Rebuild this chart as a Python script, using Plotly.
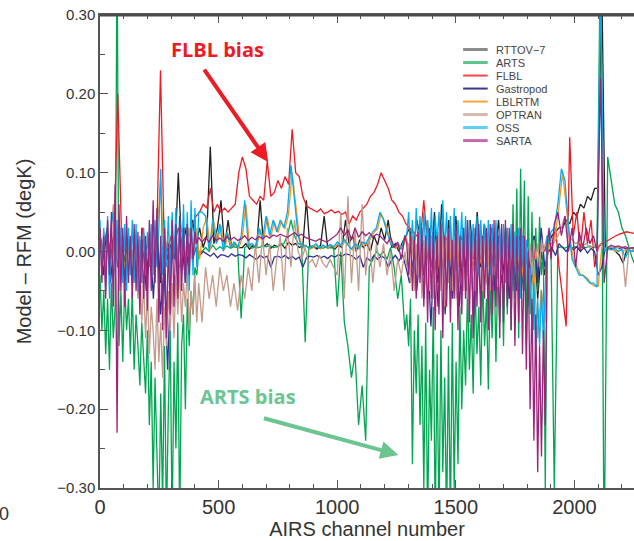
import plotly.graph_objects as go

# channel positions: every 15th channel for the smoother models,
# a denser read-off (every 8th) in the two noisy bands for the others
channels = list(range(0, 2251, 15))
channels_fine = (list(range(0, 417, 8)) + list(range(430, 1286, 15))
                 + list(range(1293, 1902, 8)) + list(range(1915, 2261, 15)))

rttov = [
    0.02, -0.01, 0.03, -0.02, 0.025, -0.01, 0.02, -0.015, 0.015, -0.01,
    0.02, -0.02, 0.015, -0.03, 0.02, -0.02, 0.03, -0.04, 0.02, -0.01,
    0.01, -0.01, 0.10, 0.0, 0.03, -0.01, 0.04, 0.01, 0.03, 0.005,
    0.02, 0.133, 0.01, 0.03, 0.065, 0.005, 0.04, 0.005, 0.01, 0.005,
    0.005, 0.01, 0.003, 0.008, 0.004, 0.065, 0.006, 0.01, 0.004, 0.008,
    0.006, 0.01, 0.004, 0.012, 0.008, 0.01, 0.005, 0.007, 0.065, 0.004,
    0.006, 0.003, 0.008, 0.045, 0.004, 0.006, 0.003, 0.008, 0.005, 0.04,
    0.01, 0.02, 0.0, 0.015, 0.005, 0.01, 0.0, 0.02, 0.008, 0.03,
    0.015, 0.04, 0.005, 0.01, 0.0, 0.012, 0.02, 0.03, 0.0, 0.04,
    0.02, -0.03, 0.04, -0.02, 0.05, -0.04, 0.06, -0.02, 0.04, -0.03,
    0.045, -0.02, 0.03, -0.03, 0.04, -0.01, 0.05, -0.02, 0.035, -0.01,
    0.03, -0.01, 0.04, -0.02, 0.03, -0.03, 0.02, -0.04, 0.02, -0.05,
    0.01, -0.04, 0.02, -0.06, 0.0, -0.03, 0.01, 0.02, 0.025, 0.03,
    0.03, 0.04, 0.035, 0.05, 0.045, 0.06, 0.055, 0.07, 0.065, 0.08,
    0.08, 0.35, 0.005, 0.003, 0.004, 0.0, -0.005, -0.015, 0.002, 0.0,
    0.002]

flbl = [
    0.02, 0.0, 0.03, -0.01, 0.025, 0.20, 0.03, 0.0, 0.02, -0.01,
    0.02, -0.01, 0.03, 0.0, 0.025, -0.01, 0.03, 0.23, 0.02, 0.0,
    0.02, 0.01, 0.03, 0.015, 0.03, 0.02, 0.035, 0.045, 0.05, 0.06,
    0.055, 0.08, 0.05, 0.06, 0.05, 0.055, 0.05, 0.055, 0.06, 0.10,
    0.12, 0.105, 0.07, 0.065, 0.06, 0.07, 0.065, 0.115, 0.07, 0.075,
    0.09, 0.08, 0.095, 0.085, 0.155, 0.10, 0.095, 0.07, 0.058, 0.055,
    0.052, 0.05, 0.054, 0.048, 0.05, 0.053, 0.049, 0.051, 0.047, 0.05,
    0.035, 0.045, 0.04, 0.05, 0.055, 0.06, 0.07, 0.075, 0.085, 0.10,
    0.09, 0.08, 0.065, 0.06, 0.05, 0.045, 0.035, 0.03, 0.025, 0.02,
    0.015, 0.065, 0.01, 0.02, 0.0, 0.015, -0.01, 0.02, 0.0, 0.01,
    0.015, -0.01, 0.02, 0.0, 0.01, -0.02, 0.015, 0.0, 0.01, -0.01,
    0.01, -0.02, 0.015, 0.0, 0.01, -0.03, 0.005, 0.0, 0.01, -0.02,
    -0.01, -0.05, 0.0, -0.03, 0.01, 0.0, 0.02, 0.0, 0.03, -0.02,
    -0.06, -0.095, 0.145, 0.02, 0.05, 0.0, 0.05, 0.01, 0.04, -0.02,
    0.005, 0.01, 0.012, 0.015, 0.018, 0.02, 0.022, 0.024, 0.025, 0.024,
    0.023]

gastropod = [
    0.02, -0.03, 0.025, -0.04, 0.03, -0.02, 0.02, -0.035, 0.015, -0.03,
    0.02, -0.04, 0.015, -0.05, 0.02, -0.06, 0.03, -0.08, -0.02, -0.15,
    -0.02, 0.02, -0.05, 0.015, -0.04, 0.01, -0.01, 0.005, -0.005, 0.0,
    -0.003, -0.006, -0.002, -0.008, -0.004, -0.005, -0.007, -0.003, -0.006, -0.004,
    -0.005, -0.008, -0.004, -0.007, -0.01, -0.005, -0.008, -0.006, -0.02, -0.007,
    -0.006, -0.008, -0.005, -0.009, -0.006, -0.01, -0.007, -0.02, -0.008, -0.006,
    -0.007, -0.005, -0.008, -0.006, -0.009, -0.005, -0.007, -0.004, -0.006, -0.003,
    -0.004, -0.006, -0.01, -0.005, -0.02, -0.008, -0.012, -0.005, -0.01, -0.006,
    -0.008, -0.02, -0.01, -0.005, -0.012, -0.004, -0.02, -0.04, -0.01, -0.05,
    0.0, -0.06, 0.01, -0.095, 0.015, -0.07, 0.02, -0.08, 0.01, -0.06,
    0.02, -0.07, 0.015, -0.05, 0.02, -0.08, 0.01, -0.06, 0.02, -0.05,
    0.015, -0.05, 0.02, -0.04, 0.01, -0.06, 0.015, -0.05, 0.02, -0.04,
    0.01, -0.03, 0.02, -0.04, 0.03, -0.02, 0.0, 0.005, -0.005, 0.01,
    0.005, 0.0, 0.008, 0.002, 0.006, 0.0, 0.005, -0.002, 0.004, 0.0,
    -0.03, -0.02, 0.004, 0.005, 0.004, 0.006, 0.004, 0.005, 0.003, 0.004,
    0.004]

lblrtm = [
    0.01, -0.015, 0.012, -0.02, 0.015, -0.01, 0.01, -0.02, 0.01, -0.015,
    0.01, -0.02, 0.008, -0.015, 0.01, -0.01, 0.015, 0.09, -0.01, 0.015,
    -0.01, 0.02, -0.005, 0.025, -0.01, 0.03, -0.015, 0.03, -0.01, 0.03,
    0.043, 0.002, 0.038, 0.012, 0.033, 0.002, 0.023, 0.006, 0.011, 0.004,
    0.018, 0.06, 0.007, 0.009, 0.004, 0.028, 0.014, 0.043, 0.019, 0.038,
    0.024, 0.038, 0.029, 0.048, 0.10, 0.058, 0.019, 0.004, 0.007, 0.003,
    0.005, 0.009, 0.003, 0.007, 0.004, 0.008, 0.005, 0.011, 0.007, 0.014,
    0.007, 0.002, 0.009, 0.003, 0.011, 0.009, 0.017, 0.024, 0.029, 0.048,
    0.038, 0.024, 0.009, 0.004, 0.009, 0.002, 0.019, 0.0, 0.001, -0.01,
    0.01, -0.015, 0.012, -0.01, 0.015, -0.02, 0.01, -0.015, 0.012, -0.02,
    0.01, -0.02, 0.015, -0.01, 0.012, -0.025, 0.01, -0.015, 0.01, -0.02,
    0.012, -0.02, 0.01, -0.015, 0.008, -0.025, 0.01, -0.03, 0.008, -0.035,
    0.005, -0.05, -0.028, -0.11, -0.048, -0.09, 0.018, 0.009, 0.023, 0.058,
    0.10, 0.058, 0.019, -0.009, -0.019, -0.029, -0.031, -0.034, -0.041, -0.044,
    -0.044, 0.005, 0.004, 0.002, 0.003, 0.0, 0.002, 0.001, 0.002, 0.0,
    0.001]

arts = [
    # 0-416
    -0.03, -0.10, -0.05, -0.13, -0.06, -0.15, -0.04, -0.11, -0.07, 0.40,
    -0.12, -0.05, -0.14, -0.04, -0.10, -0.06, -0.13, -0.05, -0.15, -0.08,
    -0.12, -0.17, -0.09, -0.14, -0.18, -0.10, -0.22, -0.14, -0.30, -0.16,
    -0.25, -0.35, -0.18, -0.32, -0.12, -0.35, -0.20, -0.10, -0.35, -0.14,
    -0.25, -0.09, -0.35, -0.12, -0.08, -0.20, -0.06, -0.12, -0.05, -0.08,
    -0.02, -0.03, 0.0,
    # 430-1285
    0.0,
    0.005, 0.0, 0.008, 0.002, 0.006, 0.003, 0.007, 0.004, 0.006, 0.005,
    -0.085, 0.005, 0.008, 0.004, 0.006, 0.005, 0.007, 0.006, 0.008, 0.005,
    0.006, 0.008, 0.01, 0.02, 0.04, 0.02, 0.01, 0.008, -0.115, 0.006,
    0.007, 0.005, 0.006, 0.004, 0.006, 0.005, 0.004, -0.07, 0.0, -0.09,
    -0.12, -0.16, -0.13, -0.22, -0.17, -0.24, -0.02, -0.01, 0.0, -0.005,
    0.0, -0.01, 0.005, -0.02, -0.06, -0.03, -0.10,
    # 1293-1901
    -0.08, -0.12, -0.06, -0.27, -0.10, -0.18, -0.08, -0.22, -0.12, -0.30,
    -0.09, -0.35, -0.15, -0.24, -0.07, -0.35, -0.13, -0.35, -0.10, -0.28,
    -0.16, -0.35, -0.12, -0.35, -0.09, -0.30, -0.14, -0.27, -0.07, -0.20,
    -0.10, -0.17, -0.05, -0.15, -0.08, -0.18, -0.04, -0.13, -0.07, -0.17,
    -0.03, -0.12, -0.06, -0.175, -0.04, -0.11, 0.0, -0.14, -0.02, -0.09,
    0.01, -0.12, 0.03, -0.08, 0.02, -0.10, 0.06, -0.06, 0.08, -0.11,
    0.105, -0.04, 0.09, -0.12, 0.07, -0.08, 0.05, -0.10, 0.03, -0.05,
    0.044, -0.03, 0.0, -0.30, 0.005, 0.0, 0.004,
    # 1915-2260
    -0.30, 0.005, 0.006, 0.004, 0.007, 0.005, 0.006, 0.004, 0.006, 0.005,
    0.007, 0.005, 0.006, 0.40, -0.40, 0.12, 0.09, 0.06, 0.05, 0.03,
    0.02, 0.005, -0.01, -0.02]

optran = [
    # 0-416
    0.02, -0.01, 0.025, -0.03, 0.015, -0.02, 0.03, 0.06, -0.02, 0.02,
    -0.03, 0.01, -0.02, 0.02, -0.03, 0.01, -0.02, 0.0, -0.04, -0.01,
    -0.06, -0.02, -0.09, -0.04, -0.11, -0.05, -0.13, -0.07, -0.10, -0.15,
    -0.06, -0.14, -0.09, -0.16, -0.07, -0.12, -0.05, -0.10, -0.04, -0.11,
    -0.03, -0.08, -0.02, -0.09, -0.04, -0.07, -0.02, -0.10, -0.05, -0.08,
    -0.03, -0.09, -0.04,
    # 430-1285
    -0.09,
    -0.02, -0.06, -0.03, -0.07, -0.02, -0.05, -0.03, -0.07, -0.04, -0.075,
    -0.03, -0.06, -0.02, -0.05, 0.01, -0.04, 0.02, -0.03, 0.01, -0.05,
    -0.01, 0.02, -0.05, 0.03, -0.02, 0.04, 0.0, -0.01, 0.005, -0.015,
    -0.01, -0.02, -0.005, -0.015, -0.02, -0.01, -0.02, -0.03, 0.05, -0.06,
    0.07, -0.04, 0.03, -0.05, 0.06, -0.03, 0.02, -0.04, 0.01, -0.02,
    0.01, -0.03, 0.0, -0.05, -0.01, -0.03, 0.0,
    # 1293-1901
    -0.02, 0.01, -0.04, 0.02, -0.05, 0.01, -0.03, 0.025, -0.06, 0.015,
    -0.04, 0.03, -0.05, 0.02, -0.06, 0.01, -0.03, 0.025, -0.05, 0.02,
    -0.07, 0.015, -0.04, 0.03, -0.05, 0.02, -0.06, 0.025, -0.04, 0.015,
    -0.05, 0.03, -0.06, 0.02, -0.04, 0.025, -0.05, 0.015, -0.03, 0.02,
    -0.05, 0.025, -0.04, 0.015, -0.05, 0.02, -0.03, 0.015, -0.045, 0.02,
    -0.03, 0.01, -0.04, 0.02, -0.03, 0.015, -0.02, 0.01, -0.035, 0.015,
    -0.02, 0.01, -0.03, 0.015, -0.02, 0.01, -0.03, 0.015, -0.01, 0.01,
    -0.02, 0.015, 0.0, 0.01, 0.02, 0.01, 0.015,
    # 1915-2260
    0.012, 0.02, 0.03, 0.045, 0.02, 0.015, 0.01, 0.012, 0.008, 0.01,
    0.005, 0.008, 0.006, 0.01, 0.004, 0.005, 0.006, 0.004, 0.005, 0.006,
    -0.045, 0.004, 0.005, 0.004]

oss = [
    # 0-416
    0.04, -0.03, 0.03, -0.05, 0.045, -0.06, 0.035, 0.05, -0.03, 0.04,
    -0.05, 0.03, -0.04, 0.035, -0.05, 0.03, -0.03, 0.04, -0.04, 0.035,
    -0.05, 0.02, -0.04, 0.03, -0.03, 0.025, -0.02, 0.035, -0.03, 0.04,
    -0.02, 0.03, 0.105, -0.03, 0.04, -0.02, 0.045, -0.03, 0.05, -0.01,
    0.055, -0.03, 0.045, -0.02, 0.06, -0.04, 0.05, -0.05, 0.065, -0.03,
    0.055, -0.02, 0.05,
    # 430-1285
    0.05,
    0.045, 0.0, 0.04, 0.01, 0.035, 0.0, 0.025, 0.005, 0.012, 0.005,
    0.02, 0.065, 0.008, 0.01, 0.005, 0.03, 0.015, 0.045, 0.02, 0.04,
    0.025, 0.04, 0.03, 0.05, 0.11, 0.06, 0.02, 0.005, 0.008, 0.004,
    0.006, 0.01, 0.004, 0.008, 0.005, 0.009, 0.006, 0.012, 0.008, 0.015,
    0.008, 0.003, 0.01, 0.004, 0.012, 0.01, 0.018, 0.025, 0.03, 0.05,
    0.04, 0.025, 0.01, 0.005, 0.01, 0.003, 0.02,
    # 1293-1901
    0.02, 0.05, 0.0, 0.04, -0.01, 0.055, 0.005, 0.045, -0.02, 0.05,
    0.0, 0.04, -0.01, 0.055, -0.02, 0.045, 0.01, 0.05, -0.015, 0.065,
    0.0, 0.05, -0.02, 0.045, -0.01, 0.055, -0.025, 0.04, 0.0, 0.05,
    -0.02, 0.045, -0.03, 0.04, -0.01, 0.035, -0.02, 0.045, -0.03, 0.04,
    -0.01, 0.035, -0.02, 0.04, -0.03, 0.035, -0.02, 0.04, -0.035, 0.03,
    -0.02, 0.035, -0.04, 0.03, -0.03, 0.035, -0.05, 0.025, -0.04, 0.03,
    -0.06, 0.02, -0.05, 0.015, -0.07, -0.02, -0.09, -0.04, -0.13, -0.06,
    -0.12, -0.05, -0.11, -0.03, 0.02, 0.01, 0.025,
    # 1915-2260
    0.03, 0.06, 0.105, 0.09, 0.03, -0.01, -0.02, -0.03, -0.03, -0.035,
    -0.04, -0.04, -0.045, 0.35, 0.0, 0.005, 0.002, 0.004, 0.0, 0.003,
    -0.008, 0.002, 0.0, 0.001]

sarta = [
    # 0-416
    0.03, -0.04, 0.02, -0.06, 0.04, -0.03, 0.05, -0.07, 0.085, -0.23,
    0.06, -0.05, 0.03, -0.07, 0.045, -0.04, 0.02, -0.06, 0.035, -0.05,
    0.025, -0.08, 0.03, -0.06, 0.02, -0.075, 0.04, -0.05, 0.065, -0.04,
    0.055, -0.09, 0.02, -0.10, 0.03, -0.11, 0.01, -0.08, 0.04, -0.07,
    0.035, -0.06, 0.045, -0.05, 0.03, -0.04, 0.035, -0.03, 0.03, -0.01,
    0.025, 0.01, 0.018,
    # 430-1285
    0.012,
    0.018, 0.012, 0.02, 0.014, 0.017, 0.013, 0.019, 0.015, 0.018, 0.014,
    0.016, 0.02, 0.014, 0.018, 0.015, 0.019, 0.016, 0.02, 0.017, 0.021,
    0.019, 0.022, 0.02, 0.018, 0.021, 0.024, 0.02, 0.022, 0.018, 0.016,
    0.015, 0.013, 0.016, 0.014, 0.012, 0.015, 0.018, 0.022, 0.03, 0.02,
    0.028, 0.015, 0.03, 0.018, 0.025, 0.02, 0.024, 0.018, 0.022, 0.02,
    0.015, 0.01, 0.018, 0.005, 0.012, -0.01, 0.02,
    # 1293-1901
    0.01, -0.03, 0.02, -0.05, 0.015, -0.06, 0.025, -0.04, 0.03, -0.07,
    0.02, -0.09, 0.03, -0.06, 0.025, -0.10, 0.02, -0.08, 0.035, -0.11,
    0.02, -0.07, 0.03, -0.09, 0.015, -0.06, 0.035, -0.10, 0.02, -0.08,
    0.03, -0.06, 0.04, -0.09, 0.025, -0.11, 0.03, -0.07, 0.035, -0.09,
    0.02, -0.06, 0.03, -0.10, 0.035, -0.08, 0.04, -0.07, 0.03, -0.11,
    0.035, -0.09, 0.04, -0.07, 0.03, -0.10, 0.035, -0.12, 0.02, -0.09,
    0.03, -0.13, 0.02, -0.15, 0.0, -0.20, -0.06, -0.24, -0.08, -0.28,
    -0.12, -0.26, -0.10, -0.22, 0.01, 0.03, -0.01,
    # 1915-2260
    0.035, 0.05, 0.02, 0.045, 0.0, 0.03, -0.02, 0.025, 0.005, 0.03,
    0.01, 0.02, 0.0, 0.22, -0.04, 0.005, 0.008, 0.006, 0.007, 0.005,
    0.006, 0.004, 0.005, 0.004]

names = ["RTTOV\u22127", "ARTS", "FLBL", "Gastropod", "LBLRTM", "OPTRAN", "OSS", "SARTA"]
series = [rttov, arts, flbl, gastropod, lblrtm, optran, oss, sarta]
xs = [channels, channels_fine, channels, channels, channels, channels_fine, channels_fine, channels_fine]
colors = ["#231f20", "#00a651", "#ed1c24", "#2e3192", "#f7941d", "#c49a8a", "#00aeef", "#9b2379"]
legend_colors = ["#8a8a8a", "#5cc48c", "#f0474c", "#3a3a8c", "#f9a43a", "#d6b8ae", "#5ccff5", "#c46aae"]
legend_widths = [3, 3, 2, 2, 2, 3, 3, 3]

y_ticks = [-0.3, -0.2, -0.1, 0.0, 0.1, 0.2, 0.3]
y_labels = ["\u22120.30", "\u22120.20", "\u22120.10", "0.00", "0.10", "0.20", "0.30"]
x_ticks = [0, 500, 1000, 1500, 2000]

for xv, s in zip(xs, series):
    assert len(s) == len(xv), (len(s), len(xv))

fig = go.Figure()
for name, xv, vals, col in zip(names, xs, series, colors):
    fig.add_trace(go.Scatter(x=xv, y=vals, mode="lines", name=name,
                             line=dict(color=col, width=1.3), showlegend=False))

axis_col = "#555555"
fig.update_layout(
    width=634, height=541,
    margin=dict(l=100, r=0, t=15, b=53),
    plot_bgcolor="white", paper_bgcolor="white",
    font=dict(family="Liberation Sans, Arial, sans-serif", color="#333333"),
    showlegend=False,
)
fig.update_xaxes(
    range=[0, 2251], tickvals=x_ticks, ticks="inside", ticklen=8, tickwidth=1.2,
    tickcolor=axis_col, showline=True, linecolor=axis_col, linewidth=1.5,
    mirror="ticks", showgrid=False, zeroline=False,
    tickfont=dict(size=20, color="#333333"),
    minor=dict(dtick=100, ticks="inside", ticklen=4, tickcolor=axis_col, showgrid=False),
    title=dict(text="AIRS channel number", font=dict(size=20, color="#333333"), standoff=2),
)
fig.update_yaxes(
    range=[-0.3, 0.3], tickvals=y_ticks, ticktext=y_labels, ticks="inside", ticklen=8,
    tickwidth=1.2, tickcolor=axis_col, showline=True, linecolor=axis_col, linewidth=1.5,
    mirror=False, showgrid=False, zeroline=False,
    tickfont=dict(size=15, color="#333333"),
    minor=dict(dtick=0.05, ticks="inside", ticklen=5, tickcolor=axis_col, showgrid=False),
    title=dict(text="Model \u2013 RFM (degK)", font=dict(size=20, color="#333333"), standoff=20),
)
# top border of the frame
fig.add_shape(type="line", xref="paper", yref="paper", x0=0, x1=1, y0=0.999, y1=0.999,
              layer="above", line=dict(color="#4a4a4a", width=2))

# legend drawn by hand (tight 13 px rows)
for i, (name, col, w) in enumerate(zip(names, legend_colors, legend_widths)):
    yy = 0.927 - i * 0.0275
    fig.add_shape(type="line", xref="paper", yref="paper", x0=0.680, x1=0.726,
                  y0=yy, y1=yy, line=dict(color=col, width=w))
    fig.add_annotation(xref="paper", yref="paper", x=0.738, y=yy, text=name,
                       showarrow=False, xanchor="left", yanchor="middle",
                       font=dict(size=11, color="#444444"))

# bias call-outs
fig.add_annotation(x=494, y=0.256, text="<b>FLBL bias</b>", showarrow=False,
                   font=dict(family="Open Sans, sans-serif", size=20, color="#ed1c24"))
fig.add_annotation(x=709, y=0.1135, ax=-65, ay=-94, text="", showarrow=True,
                   arrowhead=2, arrowsize=0.9, arrowwidth=4, arrowcolor="#ed1c24")
fig.add_annotation(x=625, y=-0.184, text="<b>ARTS bias</b>", showarrow=False,
                   font=dict(family="Open Sans, sans-serif", size=20, color="#6cc590"))
fig.add_annotation(x=1258, y=-0.258, ax=-136, ay=-37, text="", showarrow=True,
                   arrowhead=2, arrowsize=0.9, arrowwidth=4, arrowcolor="#6cc590")

# stray tick label from the neighbouring panel
fig.add_annotation(xref="paper", yref="paper", x=-0.180, y=-0.055, text="0",
                   showarrow=False, xanchor="center", yanchor="middle",
                   font=dict(size=18, color="#333333"))

# drop the browser's default 8px body margin so the figure sits at the window origin
fig.write_html("out.html", config={"displayModeBar": False},
               post_script="document.body.style.margin='0px';")
